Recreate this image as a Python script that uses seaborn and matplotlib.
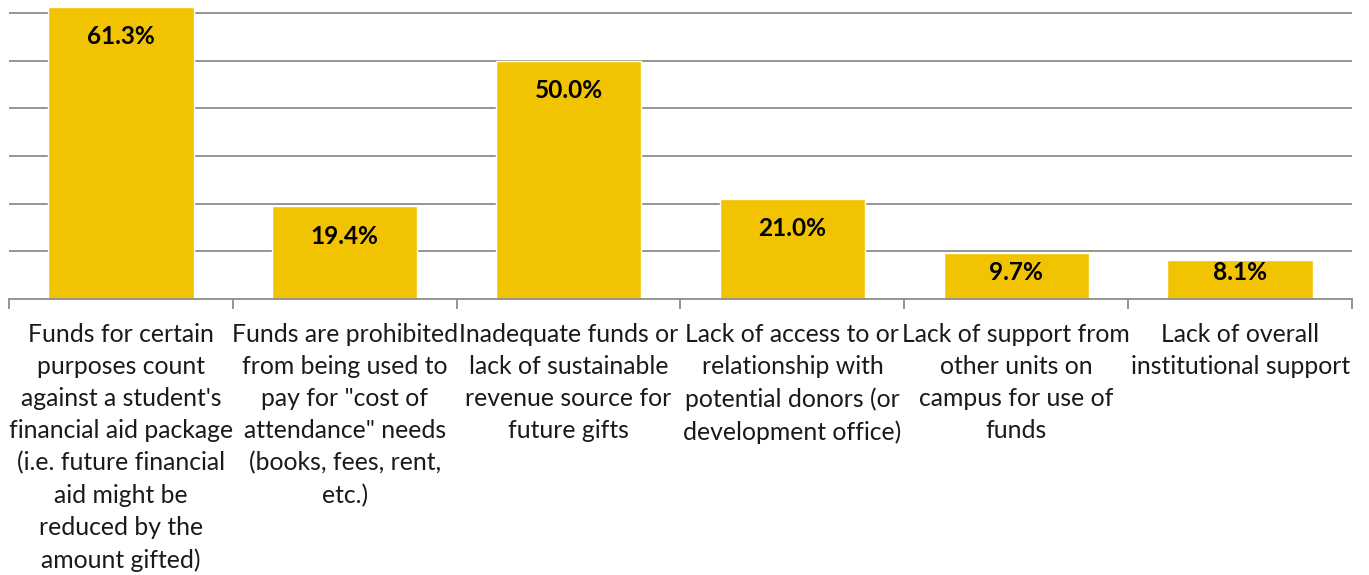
import matplotlib
matplotlib.use("Agg")
import matplotlib.pyplot as plt
from matplotlib.ticker import FixedLocator
import seaborn as sns
import pandas as pd

categories = [
    "Funds for certain\npurposes count\nagainst a student's\nfinancial aid package\n(i.e. future financial\naid might be\nreduced by the\namount gifted)",
    "Funds are prohibited\nfrom being used to\npay for \"cost of\nattendance\" needs\n(books, fees, rent,\netc.)",
    "Inadequate funds or\nlack of sustainable\nrevenue source for\nfuture gifts",
    "Lack of access to or\nrelationship with\npotential donors (or\ndevelopment office)",
    "Lack of support from\nother units on\ncampus for use of\nfunds",
    "Lack of overall\ninstitutional support",
]
values = [61.3, 19.4, 50.0, 21.0, 9.7, 8.1]
gridlines = [10, 20, 30, 40, 50, 60]

sns.set_theme(style="white")
plt.rcParams["font.family"] = ["Lato", "DejaVu Sans"]

BAR = "#F2C300"
GRID = "#8C8C8C"

fig = plt.figure(figsize=(13.69, 5.75), dpi=100)
ax = fig.add_axes([9 / 1369, 1 - 299 / 575, (1352 - 9) / 1369, 299 / 575])

df = pd.DataFrame({"category": categories, "value": values})
sns.barplot(data=df, x="category", y="value", color=BAR, saturation=1,
            width=0.65, ax=ax, zorder=3)

ax.set_xlim(-0.5, len(categories) - 0.5)
ax.set_ylim(0, 62.7)

# horizontal gridlines
ax.set_yticks(gridlines)
ax.yaxis.grid(True, color=GRID, linewidth=1.3, zorder=0)
ax.tick_params(axis="y", left=False, labelleft=False)

# category labels under each bar, tick marks at category boundaries
ax.set_xlabel("")
ax.set_ylabel("")
ax.set_xticks(range(len(categories)))
ax.set_xticklabels(categories, fontsize=17.8, color="#1a1a1a",
                   linespacing=1.48, va="top")
ax.tick_params(axis="x", which="major", length=0, pad=17)
ax.xaxis.set_minor_locator(FixedLocator([i - 0.5 for i in range(len(categories) + 1)]))
ax.tick_params(axis="x", which="minor", length=7, width=1.3, color=GRID, bottom=True)

for s in ["top", "right", "left"]:
    ax.spines[s].set_visible(False)
ax.spines["bottom"].set_color(GRID)
ax.spines["bottom"].set_linewidth(1.3)
ax.spines["bottom"].set_zorder(4)

# value labels inside the top of each bar
for i, v in enumerate(values):
    y = max(v - 6.3, 5.55)
    ax.text(i, y, f"{v:.1f}%", ha="center", va="center", fontsize=17.6,
            fontweight="bold", color="black", zorder=5)

fig.savefig("out.png", dpi=100)
